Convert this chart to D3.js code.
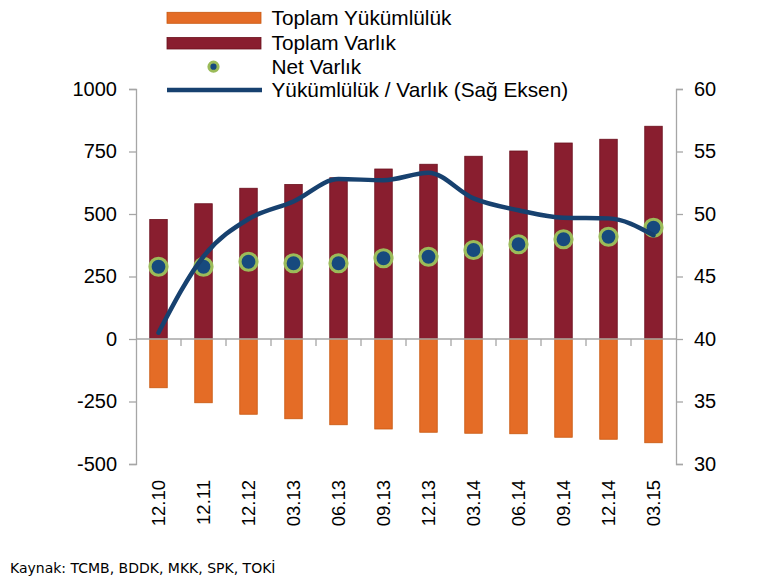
<!DOCTYPE html>
<html>
<head>
<meta charset="utf-8">
<script src="https://cdn.jsdelivr.net/npm/d3@7"></script>
<style>
  html, body { margin: 0; padding: 0; background: #fff; }
  svg { display: block; }
  text { font-family: "Liberation Sans", Arial, sans-serif; fill: #000; }
</style>
</head>
<body>
<svg id="chart" width="778" height="584"></svg>
<script>
const categories = ["12.10","12.11","12.12","03.13","06.13","09.13","12.13","03.14","06.14","09.14","12.14","03.15"];
const totalAssets = [478, 541, 603, 618, 645, 680, 699, 731, 752, 784, 799, 851];
const totalLiabilities = [-195, -255, -301, -319, -343, -360, -373, -377, -379, -393, -401, -415];
const netAssets = [289, 289, 309, 303, 303, 323, 329, 356, 379, 399, 409, 445];
const ratio = [40.5, 46.6, 49.6, 51.0, 52.8, 52.7, 53.3, 51.25, 50.3, 49.7, 49.65, 48.3];
const leftTicks = [-500, -250, 0, 250, 500, 750, 1000];
const rightTicks = [30, 35, 40, 45, 50, 55, 60];
const legendLabels = ["Toplam Yükümlülük", "Toplam Varlık", "Net Varlık", "Yükümlülük / Varlık (Sağ Eksen)"];
const sourceText = "Kaynak: TCMB, BDDK, MKK, SPK, TOKİ";

const svg = d3.select("#chart");
const axisColor = "#a6a6a6";
const cAssets = "#891e2f", cAssetsEdge = "#6a0f1c";
const cLiab = "#e46c26", cLiabEdge = "#c8580f";
const cLine = "#17416f";
const cDotFill = "#174a7e", cDotRing = "#9bbb59";

const x = d3.scaleBand().domain(categories).range([136, 676]).padding(0);
const yL = d3.scaleLinear().domain([-500, 1000]).range([464, 89]);
const yR = d3.scaleLinear().domain([30, 60]).range([464, 89]);
const barW = 17.5;
const cx = c => x(c) + x.bandwidth() / 2;
const fmt = d => String(d);

// Left axis
const gL = svg.append("g").attr("transform", "translate(136,0)")
  .call(d3.axisLeft(yL).tickValues(leftTicks).tickSize(7).tickPadding(12).tickFormat(fmt));
// Right axis
const gR = svg.append("g").attr("transform", "translate(676,0)")
  .call(d3.axisRight(yR).tickValues(rightTicks).tickSize(7).tickPadding(11).tickFormat(fmt));
[gL, gR].forEach(g => {
  g.select(".domain").attr("stroke", axisColor).attr("stroke-width", 1.3);
  g.selectAll(".tick line").attr("stroke", axisColor).attr("stroke-width", 1.3);
  g.selectAll(".tick text").attr("font-size", 20).attr("fill", "#000")
    .style("font-family", '"Liberation Sans", Arial, sans-serif');
});

// Bars
svg.append("g").selectAll("rect.asset").data(categories).join("rect")
  .attr("x", (d) => cx(d) - barW / 2)
  .attr("width", barW)
  .attr("y", (d, i) => yL(totalAssets[i]))
  .attr("height", (d, i) => yL(0) - yL(totalAssets[i]))
  .attr("fill", cAssets).attr("stroke", cAssetsEdge).attr("stroke-width", 0.8);

svg.append("g").selectAll("rect.liab").data(categories).join("rect")
  .attr("x", (d) => cx(d) - barW / 2)
  .attr("width", barW)
  .attr("y", yL(0))
  .attr("height", (d, i) => yL(totalLiabilities[i]) - yL(0))
  .attr("fill", cLiab).attr("stroke", cLiabEdge).attr("stroke-width", 0.8);

// X axis at zero with tick marks at category boundaries
const gX = svg.append("g").attr("transform", `translate(0,${yL(0)})`);
gX.append("line").attr("x1", 136).attr("x2", 676).attr("y1", 0).attr("y2", 0)
  .attr("stroke", axisColor).attr("stroke-width", 1.3);
gX.selectAll("line.bt").data(categories.slice(1)).join("line")
  .attr("x1", d => x(d)).attr("x2", d => x(d)).attr("y1", 0).attr("y2", 7)
  .attr("stroke", axisColor).attr("stroke-width", 1.3);

// X labels rotated
svg.append("g").selectAll("text.xl").data(categories).join("text")
  .attr("transform", d => `translate(${cx(d) + 6.5},480) rotate(-90)`)
  .attr("text-anchor", "end")
  .attr("font-size", 18.5)
  .text(d => d);

// Net asset dots
svg.append("g").selectAll("circle").data(categories).join("circle")
  .attr("cx", d => cx(d))
  .attr("cy", (d, i) => yL(netAssets[i]))
  .attr("r", 8.5)
  .attr("fill", cDotFill).attr("stroke", cDotRing).attr("stroke-width", 3.2);

// Ratio line (right axis)
const line = d3.line()
  .x((d, i) => cx(categories[i]))
  .y(d => yR(d))
  .curve(d3.curveMonotoneX);
svg.append("path").datum(ratio).attr("d", line)
  .attr("fill", "none").attr("stroke", cLine).attr("stroke-width", 4.5)
  .attr("stroke-linejoin", "round").attr("stroke-linecap", "round");

// Legend
const lg = svg.append("g");
const rowsY = [17.5, 43, 66.5, 90];
lg.append("rect").attr("x", 167).attr("y", 12.3).attr("width", 94).attr("height", 11)
  .attr("fill", cLiab).attr("stroke", cLiabEdge).attr("stroke-width", 0.8);
lg.append("rect").attr("x", 167).attr("y", 37.5).attr("width", 94).attr("height", 11.5)
  .attr("fill", cAssets).attr("stroke", cAssetsEdge).attr("stroke-width", 0.8);
lg.append("circle").attr("cx", 213.5).attr("cy", 66.7).attr("r", 4.6)
  .attr("fill", cDotFill).attr("stroke", cDotRing).attr("stroke-width", 3);
lg.append("line").attr("x1", 167).attr("x2", 262).attr("y1", 90).attr("y2", 90)
  .attr("stroke", cLine).attr("stroke-width", 4.5);
lg.selectAll("text").data(legendLabels).join("text")
  .attr("x", 271.5).attr("y", (d, i) => rowsY[i])
  .attr("dy", "0.35em")
  .attr("font-size", 20.8)
  .text(d => d);

// Source
svg.append("text").attr("x", 10).attr("y", 573)
  .attr("font-size", 14).attr("fill", "#222")
  .style("font-family", '"DejaVu Sans", sans-serif')
  .text(sourceText);
</script>
</body>
</html>
